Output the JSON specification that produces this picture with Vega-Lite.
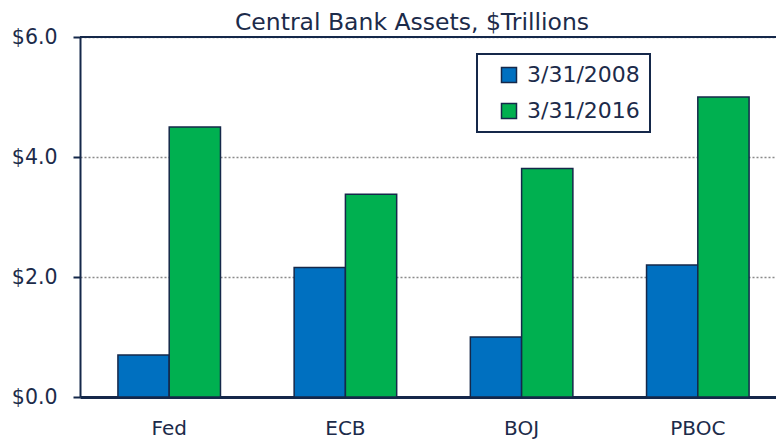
{
  "$schema": "https://vega.github.io/schema/vega-lite/v6.json",
  "width": 696,
  "height": 360,
  "autosize": {"type": "none"},
  "padding": {"left": 80, "top": 37, "right": 0, "bottom": 42},
  "title": {"text": "Central Bank Assets, $Trillions", "anchor": "middle", "dx": -16, "offset": -7, "fontSize": 23.5, "fontWeight": "normal", "color": "#1c2b4a"},
  "data": {"values": [
    {"bank": "Fed", "date": "3/31/2008", "value": 0.7},
    {"bank": "Fed", "date": "3/31/2016", "value": 4.5},
    {"bank": "ECB", "date": "3/31/2008", "value": 2.16},
    {"bank": "ECB", "date": "3/31/2016", "value": 3.38},
    {"bank": "BOJ", "date": "3/31/2008", "value": 1.0},
    {"bank": "BOJ", "date": "3/31/2016", "value": 3.81},
    {"bank": "PBOC", "date": "3/31/2008", "value": 2.2},
    {"bank": "PBOC", "date": "3/31/2016", "value": 5.0}
  ]},
  "layer": [
    {
      "mark": {"type": "bar", "stroke": "#15284a", "strokeWidth": 1.5},
      "encoding": {
        "x": {"field": "bank", "type": "nominal", "sort": ["Fed", "ECB", "BOJ", "PBOC"],
          "scale": {"paddingInner": 0.418, "paddingOuter": 0.184, "align": 0.585},
          "axis": {"title": null, "ticks": false, "labelPadding": 21, "labelFontSize": 20, "labelAngle": 0, "labelColor": "#1c2b4a", "domainColor": "#15284a", "domainWidth": 3, "grid": false}},
        "xOffset": {"field": "date", "sort": ["3/31/2008", "3/31/2016"]},
        "y": {"field": "value", "type": "quantitative", "scale": {"domain": [0, 6]},
          "axis": {"title": null, "values": [0, 2, 4, 6], "format": "$.1f", "labelFontSize": 20.5, "labelColor": "#1c2b4a", "labelPadding": 16, "tickSize": 7, "tickColor": "#15284a", "tickWidth": 2, "domainColor": "#15284a", "domainWidth": 2, "grid": true, "gridColor": "#8a8a8a", "gridDash": [2, 2], "gridWidth": 1.5}},
        "color": {"field": "date", "type": "nominal",
          "scale": {"domain": ["3/31/2008", "3/31/2016"], "range": ["#0070C0", "#00B050"]},
          "legend": {"title": null, "orient": "none", "legendX": 397, "legendY": 17, "padding": 10, "strokeColor": "#15284a", "fillColor": "#ffffff", "symbolType": "square", "symbolSize": 225, "symbolStrokeColor": "#15284a", "symbolStrokeWidth": 1.5, "labelFontSize": 22, "labelColor": "#1c2b4a", "rowPadding": 14, "symbolOffset": 11, "labelOffset": 7}}
      }
    },
    {
      "mark": {"type": "rule", "color": "#15284a", "strokeWidth": 2},
      "encoding": {"y": {"datum": 6}}
    }
  ],
  "config": {"view": {"stroke": null}, "font": "DejaVu Sans", "legend": {"strokeWidth": 2}}
}
